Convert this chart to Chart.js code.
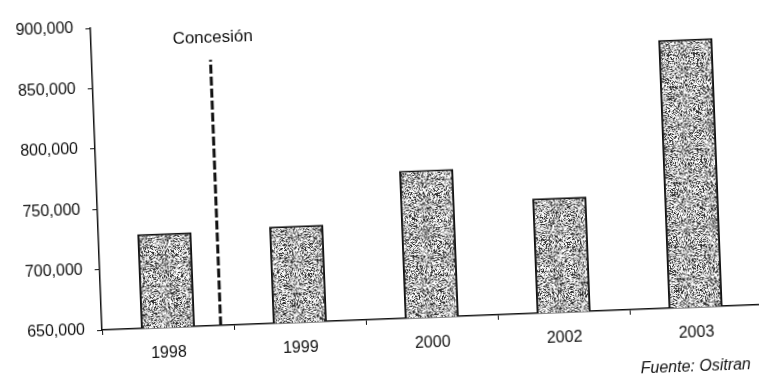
<!DOCTYPE html>
<html>
<head>
<meta charset="utf-8">
<script src="https://cdn.jsdelivr.net/npm/chart.js@4.4.1/dist/chart.umd.min.js"></script>
<style>
  html, body { margin: 0; padding: 0; background: #fff; overflow: hidden; width: 759px; height: 381px; }
  #wrap {
    position: absolute; left: 0; top: 0; width: 790px; height: 400px;
    transform: rotate(-2.2deg); transform-origin: 102px 330px;
  }
  canvas { display: block; }
</style>
</head>
<body>
<div id="wrap"><canvas id="c" width="790" height="400"></canvas></div>
<script>
// Yearly traffic figures
const categories = ['1998', '1999', '2000', '2002', '2003'];
const traffic = [728000, 730000, 772000, 745000, 872000];

// Value axis range and tick step
const yMin = 650000;
const yMax = 900000;
const yStep = 50000;

// Concession marker: position on the category axis (index units) and height
const concessionAt = 0.4;
const concessionTop = 870000;
const concessionLabel = 'Concesión';
const concessionLabelAt = 888000;

const sourceNote = 'Fuente: Ositran';

const FONT = '"Liberation Sans", Arial, Helvetica, sans-serif';

// Stippled grey fill for the bars (deterministic hash texture)
function stipple() {
  const s = 96;
  const cv = document.createElement('canvas');
  cv.width = s; cv.height = s;
  const g = cv.getContext('2d');
  const img = g.createImageData(s, s);
  for (let y = 0; y < s; y++) {
    for (let x = 0; x < s; x++) {
      const h = Math.sin(x * 12.9898 + y * 78.233) * 43758.5453;
      const f = h - Math.floor(h);
      const v = f < 0.25 ? 50 : f < 0.45 ? 140 : f < 0.7 ? 205 : 255;
      const i = (y * s + x) * 4;
      img.data[i] = img.data[i + 1] = img.data[i + 2] = v;
      img.data[i + 3] = 255;
    }
  }
  g.putImageData(img, 0, 0);
  return document.getElementById('c').getContext('2d').createPattern(cv, 'repeat');
}

const markerPlugin = {
  id: 'concessionMarker',
  afterDatasetsDraw(chart) {
    const ctx = chart.ctx;
    const xs = chart.scales.x, ys = chart.scales.y;
    const x = xs.getPixelForValue(concessionAt);
    ctx.save();
    ctx.strokeStyle = '#111';
    ctx.lineWidth = 3;
    ctx.setLineDash([9, 3]);
    ctx.beginPath();
    ctx.moveTo(x, ys.getPixelForValue(yMin));
    ctx.lineTo(x, ys.getPixelForValue(concessionTop));
    ctx.stroke();
    ctx.setLineDash([]);
    ctx.fillStyle = '#111';
    ctx.font = '17px ' + FONT;
    ctx.textAlign = 'center';
    ctx.textBaseline = 'middle';
    ctx.fillText(concessionLabel, x + 3, ys.getPixelForValue(concessionLabelAt));
    ctx.font = 'italic 16px ' + FONT;
    ctx.textAlign = 'right';
    ctx.fillText(sourceNote, chart.chartArea.right - 13, chart.chartArea.bottom + 60);
    ctx.restore();
  }
};

new Chart(document.getElementById('c'), {
  type: 'bar',
  data: {
    labels: categories,
    datasets: [{
      data: traffic,
      backgroundColor: stipple(),
      borderColor: '#111',
      borderWidth: 2,
      borderSkipped: false,
      barPercentage: 0.41,
      categoryPercentage: 1
    }]
  },
  options: {
    responsive: false,
    animation: false,
    devicePixelRatio: 1,
    layout: { padding: { top: 28, right: 28, left: 0, bottom: 0 } },
    plugins: { legend: { display: false }, tooltip: { enabled: false } },
    scales: {
      x: {
        grid: { drawOnChartArea: false, drawTicks: true, tickLength: 5, color: '#111', offset: true },
        border: { display: true, color: '#111', width: 1.5 },
        ticks: { color: '#111', padding: 11, font: { family: FONT, size: 16 } },
        afterFit(s) { s.height = 70; }
      },
      y: {
        min: yMin,
        max: yMax,
        grid: { drawOnChartArea: false, drawTicks: true, tickLength: 5, color: '#111' },
        border: { display: true, color: '#111', width: 1.5 },
        ticks: {
          stepSize: yStep,
          color: '#111',
          padding: 12,
          font: { family: FONT, size: 16 },
          callback: v => v.toLocaleString('en-US')
        },
        afterFit(s) { s.width = 102; }
      }
    }
  },
  plugins: [markerPlugin]
});
</script>
</body>
</html>
